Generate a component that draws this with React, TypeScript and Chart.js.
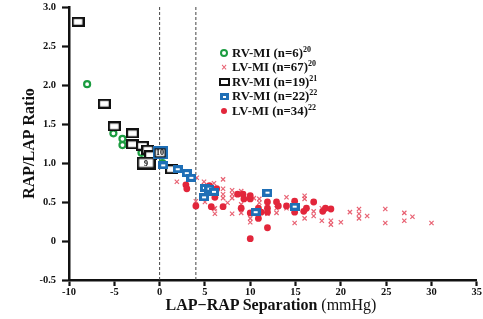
import React, { useEffect, useRef } from 'react';
import { Chart, registerables } from 'chart.js';

Chart.register(...registerables);

const FONT = '"Liberation Serif", "Times New Roman", serif';

// ---- tick labels ----
const xTickLabels = ['-10', '-5', '0', '5', '10', '15', '20', '25', '30', '35'];
const yTickLabels = ['-0.5', '0', '0.5', '1.0', '1.5', '2.0', '2.5', '3.0'];

// ---- vertical reference lines (LAP-RAP separation) ----
const refLinesX = [0, 4];

// ---- RV-MI (n=6) ref 20 : green open circles ----
const greenX = [-8.0, -5.1, -4.1, -4.1, -2.0, 0.3];
const greenY = [2.01, 1.38, 1.31, 1.23, 1.13, 1.0];

// ---- LV-MI (n=67) ref 20 : red crosses ----
const crossX = [1.9, 4.1, 4.9, 4.9, 4.0, 5.0, 6.0, 7.0, 7.0, 7.0, 7.0, 8.0, 8.0, 8.0, 8.0, 6.1, 6.1, 9.0, 9.0, 10.4, 11.0, 11.0, 10.0, 10.0, 11.9, 12.9, 12.9, 14.0, 14.0, 14.9, 16.0, 16.0, 16.0, 17.0, 17.0, 17.9, 17.9, 18.9, 18.9, 20.0, 21.0, 22.0, 22.0, 22.0, 22.9, 24.9, 24.9, 27.0, 27.0, 27.9, 30.0, 7.5, 6.0, 9.0, 6.0];
const crossY = [0.76, 0.81, 0.76, 0.71, 0.51, 0.50, 0.74, 0.79, 0.67, 0.60, 0.55, 0.65, 0.60, 0.55, 0.35, 0.42, 0.35, 0.64, 0.47, 0.55, 0.54, 0.49, 0.29, 0.24, 0.35, 0.42, 0.36, 0.56, 0.42, 0.23, 0.58, 0.54, 0.29, 0.38, 0.32, 0.42, 0.26, 0.26, 0.21, 0.24, 0.37, 0.41, 0.35, 0.29, 0.32, 0.41, 0.23, 0.36, 0.26, 0.31, 0.23, 0.49, 0.41, 0.36, 0.56];

// ---- RV-MI (n=19) ref 21 : black open rectangles ----
const blackX = [-9.0, -6.1, -5.0, -3.0, -3.0, -1.9, -1.3, -1.0, 1.3];
const blackY = [2.81, 1.76, 1.47, 1.38, 1.24, 1.22, 1.17, 1.10, 0.92];

// ---- RV-MI (n=22) ref 22 : blue rectangles ----
const blueX = [0.4, 2.0, 3.0, 3.5, 5.0, 5.5, 6.0, 4.9, 11.9, 10.6, 14.9];
const blueY = [0.97, 0.92, 0.87, 0.81, 0.68, 0.67, 0.63, 0.56, 0.62, 0.37, 0.44];

// ---- LV-MI (n=34) ref 22 : red dots ----
const dotX = [2.9, 3.0, 4.0, 5.5, 6.2, 6.3, 6.1, 5.7, 7.0, 8.6, 9.2, 9.3, 10.0, 10.0, 9.0, 10.0, 10.9, 10.9, 11.2, 11.9, 11.9, 11.9, 11.9, 12.9, 13.1, 14.0, 14.9, 14.9, 15.9, 16.2, 17.0, 18.0, 18.3, 18.9, 10.0];
const dotY = [0.72, 0.67, 0.45, 0.71, 0.64, 0.67, 0.56, 0.44, 0.44, 0.60, 0.60, 0.54, 0.58, 0.54, 0.42, 0.36, 0.42, 0.29, 0.37, 0.50, 0.42, 0.37, 0.17, 0.50, 0.45, 0.45, 0.51, 0.37, 0.38, 0.42, 0.50, 0.38, 0.42, 0.41, 0.03];

// ---- numbered boxes ----
const boxLabelText = ['9', '10'];
const boxLabelX = [-1.5, 0.05];
const boxLabelY = [1.0, 1.13];

const zip = (xs: number[], ys: number[]) => xs.map((x, i) => ({ x, y: ys[i] }));

function makeCanvas(w: number, h: number, draw: (c: CanvasRenderingContext2D) => void) {
  const cv = document.createElement('canvas');
  cv.width = w;
  cv.height = h;
  const c = cv.getContext('2d') as CanvasRenderingContext2D;
  draw(c);
  return cv;
}

const BLUE = '#1f6fb6';
const GREEN = '#1b9c40';
const RED = '#e2263b';
const PINK = 'rgba(228,70,90,0.85)';

const boxLabelPlugin = {
  id: 'boxLabels',
  afterDatasetsDraw(chart: any) {
    const { ctx, scales } = chart;
    ctx.save();
    ctx.font = `bold 8px ${FONT}`;
    ctx.fillStyle = '#000';
    ctx.textAlign = 'center';
    ctx.textBaseline = 'middle';
    boxLabelText.forEach((t, i) => {
      ctx.fillText(t, scales.x.getPixelForValue(boxLabelX[i]), scales.y.getPixelForValue(boxLabelY[i]) + 0.5);
    });
    ctx.restore();
  },
};

export default function App() {
  const ref = useRef<HTMLCanvasElement>(null);

  useEffect(() => {
    const blackBox = makeCanvas(13, 10, (c) => {
      c.fillStyle = '#fff';
      c.fillRect(1, 1, 11, 8);
      c.strokeStyle = '#111';
      c.lineWidth = 2.2;
      c.strokeRect(1.1, 1.1, 10.8, 7.8);
    });
    const blueBox = makeCanvas(10, 8, (c) => {
      c.fillStyle = BLUE;
      c.fillRect(0, 0, 10, 8);
      c.fillStyle = '#fff';
      c.fillRect(3, 3, 4, 2);
    });
    const bigBlackBox = makeCanvas(19, 13, (c) => {
      c.fillStyle = '#fff';
      c.fillRect(1, 1, 17, 11);
      c.strokeStyle = '#111';
      c.lineWidth = 2.5;
      c.strokeRect(1.25, 1.25, 16.5, 10.5);
    });
    const blueBigBox = makeCanvas(15, 13, (c) => {
      c.fillStyle = '#fff';
      c.fillRect(0, 0, 15, 13);
      c.strokeStyle = BLUE;
      c.lineWidth = 2;
      c.strokeRect(1, 1, 13, 11);
      c.strokeStyle = '#111';
      c.lineWidth = 1.2;
      c.strokeRect(2.6, 2.6, 9.8, 7.8);
    });

    const chart = new Chart(ref.current as HTMLCanvasElement, {
      type: 'scatter',
      data: {
        datasets: [
          {
            label: 'boxes',
            data: zip(boxLabelX, boxLabelY),
            pointStyle: [bigBlackBox, blueBigBox] as any,
          },
          {
            label: 'RV-MI (n=22)',
            data: zip(blueX, blueY),
            pointStyle: blueBox as any,
          },
          {
            label: 'RV-MI (n=19)',
            data: zip(blackX, blackY),
            pointStyle: blackBox as any,
          },
          {
            label: 'RV-MI (n=6)',
            data: zip(greenX, greenY),
            pointStyle: 'circle',
            pointRadius: 3,
            borderColor: GREEN,
            backgroundColor: '#fff',
            borderWidth: 2.2,
          },
          {
            label: 'LV-MI (n=34)',
            data: zip(dotX, dotY),
            pointStyle: 'circle',
            pointRadius: 3.4,
            backgroundColor: RED,
            borderColor: RED,
            borderWidth: 0,
          },
          {
            label: 'LV-MI (n=67)',
            data: zip(crossX, crossY),
            pointStyle: 'crossRot',
            pointRadius: 3,
            borderColor: PINK,
            borderWidth: 1.2,
          },
          ...refLinesX.map((v) => ({
            type: 'line' as const,
            label: 'ref' + v,
            data: [
              { x: v, y: -0.5 },
              { x: v, y: 3.0 },
            ],
            borderColor: '#444',
            borderWidth: 1,
            borderDash: [3, 2],
            pointRadius: 0,
            showLine: true,
          })),
        ] as any,
      },
      options: {
        animation: false,
        responsive: false,
        devicePixelRatio: 1,
        layout: { padding: { top: 7, right: 4, left: 0, bottom: 0 } },
        plugins: { legend: { display: false }, tooltip: { enabled: false } },
        scales: {
          x: {
            type: 'linear',
            min: -10,
            max: 35,
            afterFit: (s: any) => {
              s.height = 39;
              s.paddingLeft = 0;
              s.paddingRight = 0;
            },
            ticks: {
              stepSize: 5,
              autoSkip: false,
              maxRotation: 0,
              padding: 0,
              color: '#111',
              font: { family: FONT, size: 10.5, weight: 'bold' },
              callback: (_v: any, i: number) => xTickLabels[i],
            },
            grid: {
              drawOnChartArea: false,
              drawTicks: true,
              tickLength: 6,
              tickWidth: 2.2,
              tickColor: '#111',
            },
            border: { color: '#111', width: 2.5 },
          },
          y: {
            type: 'linear',
            min: -0.5,
            max: 3.0,
            afterFit: (s: any) => {
              s.width = 69;
              s.paddingTop = 0;
              s.paddingBottom = 0;
            },
            ticks: {
              stepSize: 0.5,
              autoSkip: false,
              padding: 6,
              color: '#111',
              font: { family: FONT, size: 10.5, weight: 'bold' },
              callback: (_v: any, i: number) => yTickLabels[i],
            },
            grid: {
              drawOnChartArea: false,
              drawTicks: true,
              tickLength: 7,
              tickWidth: 2.2,
              tickColor: '#111',
            },
            border: { color: '#111', width: 2.5 },
            title: {
              display: true,
              text: 'RAP/LAP Ratio',
              color: '#111',
              font: { family: FONT, size: 16, weight: 'bold' },
              padding: { top: 20, bottom: 0 },
            },
          },
        },
      } as any,
      plugins: [boxLabelPlugin],
    });
    return () => chart.destroy();
  }, []);

  const legendRows: { label: string; sup: string; marker: React.ReactNode }[] = [
    {
      label: 'RV-MI (n=6)',
      sup: '20',
      marker: <span style={{ display: 'inline-block', width: 4, height: 4, border: `2px solid ${GREEN}`, borderRadius: '50%' }} />,
    },
    {
      label: 'LV-MI (n=67)',
      sup: '20',
      marker: <span style={{ color: PINK, fontFamily: 'DejaVu Sans, sans-serif', fontSize: 8, lineHeight: '8px' }}>×</span>,
    },
    {
      label: 'RV-MI (n=19)',
      sup: '21',
      marker: <span style={{ display: 'inline-block', width: 7, height: 4, border: '2px solid #111' }} />,
    },
    {
      label: 'RV-MI (n=22)',
      sup: '22',
      marker: (
        <span style={{ display: 'inline-block', width: 9, height: 7, background: BLUE, position: 'relative' }}>
          <span style={{ position: 'absolute', left: 3, top: 3, width: 3, height: 1.5, background: '#fff' }} />
        </span>
      ),
    },
    {
      label: 'LV-MI (n=34)',
      sup: '22',
      marker: <span style={{ display: 'inline-block', width: 6, height: 6, background: RED, borderRadius: '50%' }} />,
    },
  ];

  return (
    <div style={{ position: 'absolute', left: 0, top: 0, width: 483, height: 319, background: '#fff' }}>
      <canvas ref={ref} width={483} height={319} style={{ width: 483, height: 319, display: 'block' }} />
      {legendRows.map((r, i) => (
        <div
          key={i}
          style={{
            position: 'absolute',
            left: 216,
            top: 53 + i * 14.5 - 8,
            height: 16,
            display: 'flex',
            alignItems: 'center',
            whiteSpace: 'nowrap',
            fontFamily: FONT,
            fontWeight: 'bold',
            fontSize: 12.8,
            color: '#111',
          }}
        >
          <span style={{ width: 16, display: 'flex', justifyContent: 'center', alignItems: 'center' }}>{r.marker}</span>
          <span>
            {r.label}
            <sup style={{ fontSize: 8, verticalAlign: 'top', position: 'relative', top: -1 }}>{r.sup}</sup>
          </span>
        </div>
      ))}
      <div
        style={{
          position: 'absolute',
          left: 271,
          top: 295,
          transform: 'translateX(-50%)',
          whiteSpace: 'nowrap',
          fontFamily: FONT,
          fontSize: 16,
          color: '#111',
          lineHeight: '20px',
        }}
      >
        <b>LAP−RAP Separation</b> (mmHg)
      </div>
    </div>
  );
}
